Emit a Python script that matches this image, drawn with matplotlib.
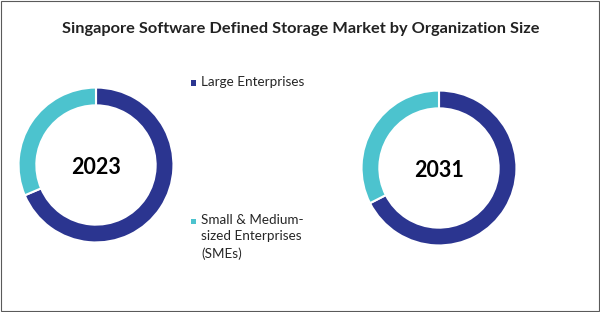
import matplotlib
matplotlib.use("Agg")
import matplotlib.pyplot as plt
from matplotlib.patches import Rectangle

plt.rcParams['font.family'] = ['Lato', 'DejaVu Sans']

categories = ["Large Enterprises", "Small & Medium-\nsized Enterprises\n(SMEs)"]
years = ["2023", "2031"]
values_2023 = [68.6, 31.4]
values_2031 = [67.5, 32.5]
colors = ["#2B3590", "#4CC3CE"]
title = "Singapore Software Defined Storage Market by Organization Size"

W, H = 600, 312
fig = plt.figure(figsize=(W / 100, H / 100), dpi=100)
fig.patch.set_facecolor("white")

def donut(cx, cy, r, vals, label):
    ax = fig.add_axes([(cx - r) / W, (H - cy - r) / H, 2 * r / W, 2 * r / H])
    ax.pie(vals, colors=colors, startangle=90, counterclock=False, radius=1.0,
           wedgeprops=dict(width=0.23, edgecolor="white", linewidth=1.5))
    ax.set_xlim(-1.02, 1.02)
    ax.set_ylim(-1.02, 1.02)
    ax.set_aspect("equal")
    ax.axis("off")
    ax.text(0, -0.03, label, ha="center", va="center", fontsize=15.5,
            fontweight="bold", color="black")

donut(96, 165, 79, values_2023, years[0])
donut(439, 168, 79, values_2031, years[1])

fig.text(0.502, 1 - 29 / H, title, ha="center", va="center", fontsize=11.8,
         fontweight="bold", color="#222222")

# legend
leg_pos = [(193, 83), (193, 221)]
for (x, y), lab, c in zip(leg_pos, categories, colors):
    fig.patches.append(Rectangle(((x - 2.5) / W, 1 - (y + 2.5) / H), 5 / W, 5 / H,
                                 transform=fig.transFigure, facecolor=c, edgecolor="none"))
    fig.text((x + 8) / W, 1 - (y - 7) / H, lab, ha="left", va="top", fontsize=9.7,
             color="#262626", linespacing=1.45)

# border
fig.patches.append(Rectangle((1 / W, 1 / H), (W - 2) / W, (H - 2) / H,
                             transform=fig.transFigure, facecolor="none",
                             edgecolor="#5a5a5a", linewidth=0.8))

fig.savefig("out.png", dpi=100, facecolor="white")
